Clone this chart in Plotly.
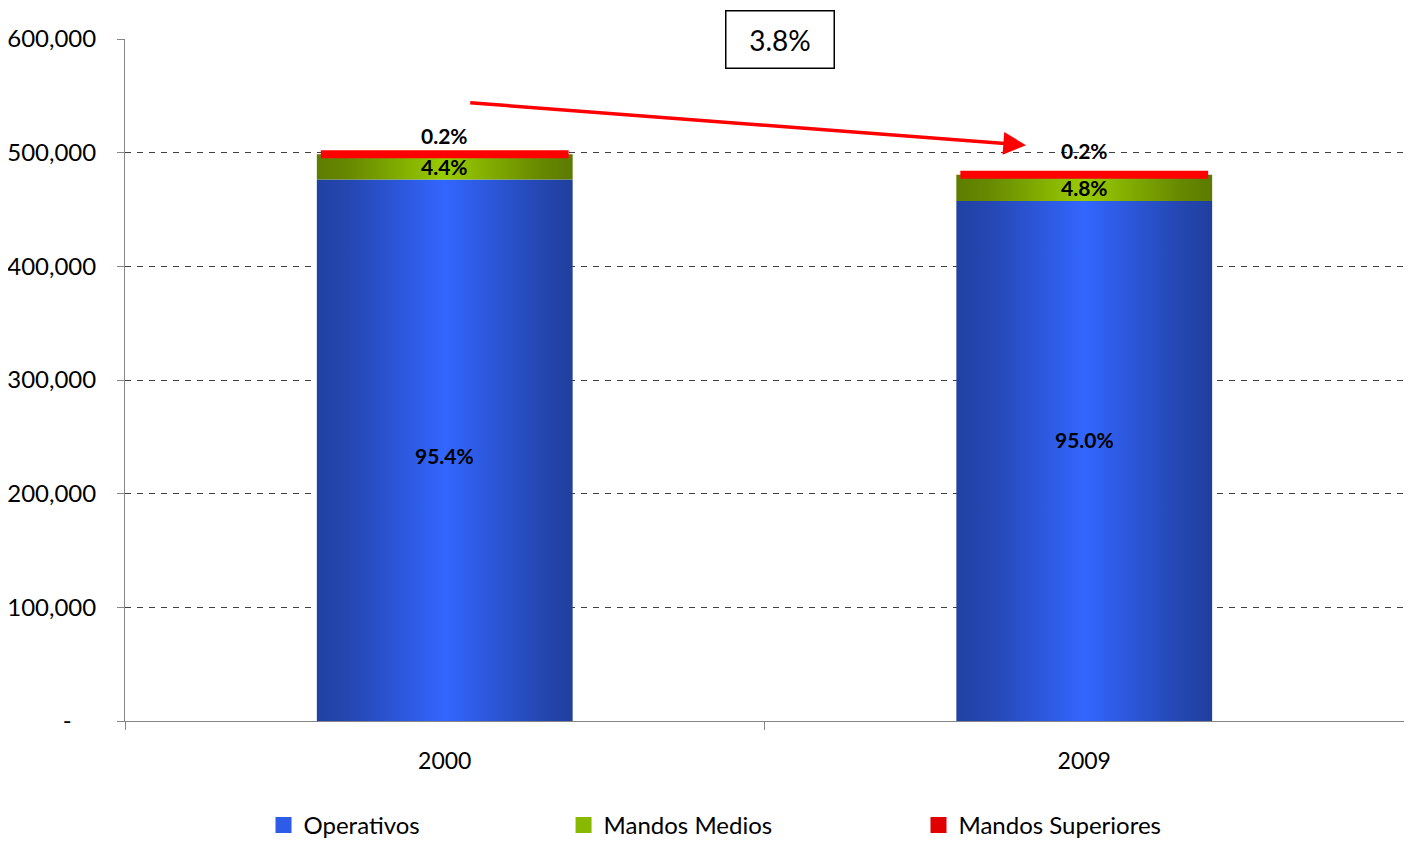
import plotly.graph_objects as go

# Datos
anos = ['2000', '2009']
operativos = [476500, 457400]
mandos_medios = [22000, 23100]
mandos_superiores = [1000, 1000]

pct_operativos = ['95.4%', '95.0%']
pct_medios = ['4.4%', '4.8%']
pct_superiores = ['0.2%', '0.2%']

variacion = '3.8%'

y_ticks = [0, 100000, 200000, 300000, 400000, 500000, 600000]
y_ticktext = ['-\u00a0\u00a0\u00a0\u00a0', '100,000', '200,000', '300,000',
              '400,000', '500,000', '600,000']

FUENTE = "Lato, 'Open Sans', sans-serif"
ANCHO = 0.2  # media anchura de la barra (unidades del eje x)

# la pagina tiene 8px de margen en el body
OFF = 8

series = [
    dict(nombre='Operativos', valores=operativos, pct=pct_operativos,
         escala=[[0, '#2142A3'], [0.12, '#2446B0'], [0.5, '#3366FF'],
                 [0.88, '#2446B0'], [1, '#203F9E']],
         leyenda='#2E5BE8', linea=0, desplaz=[-5, 22], arriba=False),
    dict(nombre='Mandos Medios', valores=mandos_medios, pct=pct_medios,
         escala=[[0, '#5E7D00'], [0.12, '#668800'], [0.5, '#99CC00'],
                 [0.88, '#668800'], [1, '#5C7A00']],
         leyenda='#88B800', linea=0, desplaz=[0, 0], arriba=False),
    dict(nombre='Mandos Superiores', valores=mandos_superiores, pct=pct_superiores,
         escala=[[0, '#FF0000'], [1, '#FF0000']],
         leyenda='#E00000', linea=8, desplaz=[18, 23], arriba=True),
]

fig = go.Figure()

base = [0] * len(anos)
for k, s in enumerate(series):
    tops = []
    for i, v in enumerate(s['valores']):
        b = base[i]
        t = b + v
        w = ANCHO - (s['linea'] / 2) / 640
        fig.add_trace(go.Scatter(
            x=[i - w, i + w, i + w, i - w, i - w],
            y=[b, b, t, t, b],
            mode='lines',
            fill='toself',
            fillgradient=dict(type='horizontal', colorscale=s['escala']),
            line=dict(width=s['linea'], color='#FF0000'),
            showlegend=False,
            hoverinfo='skip'
        ))
        tops.append(t)

        # etiqueta de datos
        y_lab = t if s['arriba'] else b + v / 2
        fig.add_annotation(
            x=i, y=y_lab, xref='x', yref='y', text=s['pct'][i],
            showarrow=False, yanchor='middle', yshift=s['desplaz'][i],
            font=dict(family=FUENTE, size=21, color='black', weight='bold')
        )

    # leyenda
    fig.add_trace(go.Scatter(
        x=[None], y=[None], mode='markers', name=s['nombre'],
        marker=dict(symbol='square', size=18, color=s['leyenda']),
        legend='legend' if k == 0 else f'legend{k + 1}'
    ))
    base = tops

# flecha y caja de variacion
fig.add_annotation(x=0.909, y=506600, ax=0.0375, ay=544000,
                   xref='x', yref='y', axref='x', ayref='y',
                   text='', showarrow=True, arrowhead=2, arrowsize=1.3,
                   arrowwidth=3.5, arrowcolor='#FF0000')
fig.add_annotation(x=0.512, y=1, xref='paper', yref='paper', yanchor='middle',
                   text=variacion, showarrow=False,
                   font=dict(family=FUENTE, size=28, color='black'),
                   bordercolor='black', borderwidth=1.5, width=105, height=54)

leyenda_base = dict(orientation='h', y=-0.153, yanchor='middle', xanchor='left',
                    font=dict(family=FUENTE, size=24, color='black'),
                    bgcolor='rgba(0,0,0,0)')
posiciones = [0.1083, 0.3429, 0.6204]

fig.update_layout(
    width=1412 - 2 * OFF, height=851 - 2 * OFF,
    paper_bgcolor='white', plot_bgcolor='white',
    margin=dict(l=125 - OFF, r=0, t=39 - OFF, b=130 - OFF, autoexpand=False),
    font=dict(family=FUENTE, size=22, color='black'),
    legend=dict(leyenda_base, x=posiciones[0]),
    legend2=dict(leyenda_base, x=posiciones[1]),
    legend3=dict(leyenda_base, x=posiciones[2]),
    xaxis=dict(
        range=[-0.5, 1.5], tickmode='array', tickvals=[0, 1], ticktext=anos,
        ticks='', showgrid=False, zeroline=False, automargin=False,
        showline=True, linecolor='#868686', linewidth=1,
        ticklabelstandoff=19, tickfont=dict(size=23),
        minor=dict(tickmode='linear', tick0=-0.5, dtick=1, ticks='outside',
                   ticklen=8, tickcolor='#868686', showgrid=False)
    ),
    yaxis=dict(
        range=[0, 600000], tickmode='array', tickvals=y_ticks, ticktext=y_ticktext,
        ticks='outside', ticklen=7, tickcolor='#868686', automargin=False,
        showline=True, linecolor='#868686', linewidth=1,
        showgrid=True, gridcolor='#404040', gridwidth=1, griddash='6px,6px',
        zeroline=False, ticklabelstandoff=16, tickfont=dict(size=24)
    ),
)

fig.write_html("out.html")
